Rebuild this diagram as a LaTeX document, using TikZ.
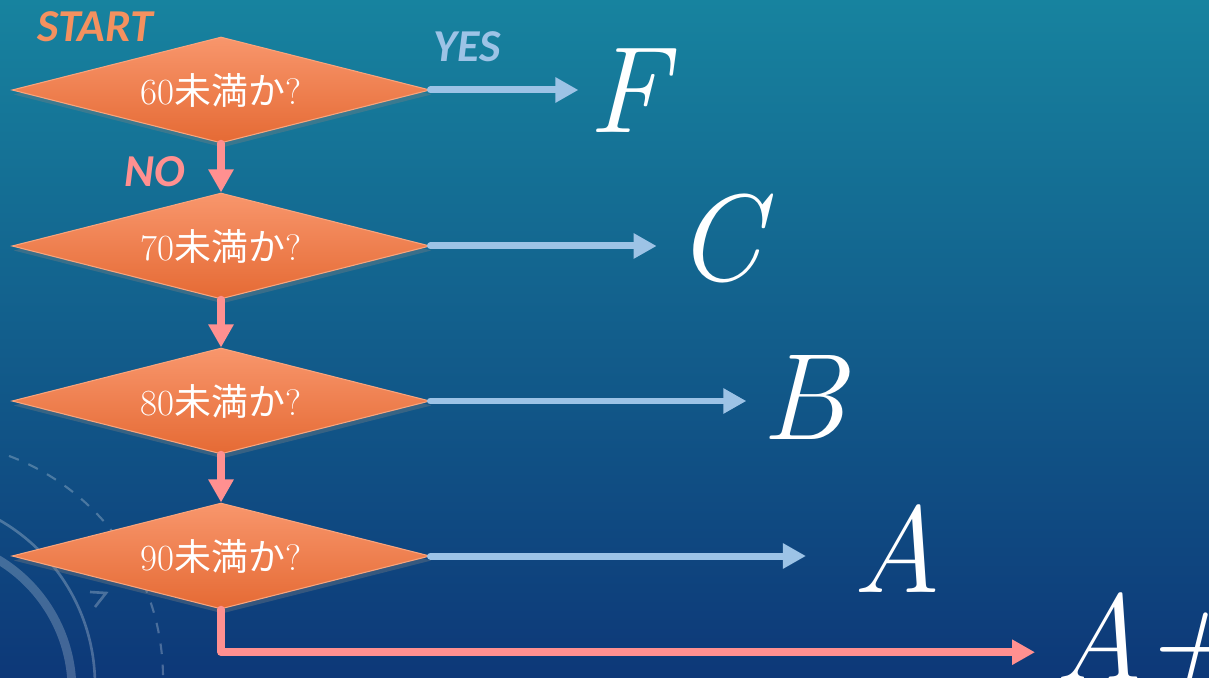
\documentclass[tikz,border=0pt]{standalone}
\usepackage{fontspec}
\newfontfamily\cjkfont{Noto Sans CJK JP}
\newfontfamily\tagfont{Carlito}
\usetikzlibrary{shapes.geometric,arrows.meta,shadows}
\definecolor{bgtop}{HTML}{17839F}
\definecolor{bgmid}{HTML}{135E94}
\definecolor{bgbot}{HTML}{0D3878}
\definecolor{dtop}{HTML}{F8966C}
\definecolor{dbot}{HTML}{E56A34}
\definecolor{dedge}{HTML}{F9A47C}
\definecolor{yescol}{HTML}{9DC3E6}
\definecolor{nocol}{HTML}{FF9090}
\definecolor{startcol}{HTML}{F4915F}
\newcommand{\belowscore}[1]{{\rmfamily #1}{\cjkfont 未満か}{\rmfamily ?}}
\tikzset{
  test/.style={diamond, aspect=3.94, minimum width=8.36cm, minimum height=2.12cm,
    inner sep=0pt, top color=dtop, bottom color=dbot, draw=dedge, line width=0.6pt,
    drop shadow={shadow xshift=0.03cm, shadow yshift=-0.09cm, opacity=0.35},
    text=white, font=\fontsize{21}{21}\selectfont},
  grade/.style={text=white, inner sep=0pt, font=\rmfamily\itshape\fontsize{70}{70}\selectfont},
  yesline/.style={draw=yescol, line width=0.14cm, line cap=round,
    -{Triangle[length=0.46cm,width=0.48cm]}},
  noline/.style={draw=nocol, line width=0.15cm, line cap=round, line join=round,
    -{Triangle[length=0.46cm,width=0.48cm]}},
  tag/.style={font=\tagfont\bfseries\itshape\fontsize{26}{26}\selectfont}
}
\begin{document}
\begin{tikzpicture}[x=0.02cm, y=-0.02cm]
\useasboundingbox (0,0) rectangle (1209,678);
\clip (0,0) rectangle (1209,678);
% Background
\shade[top color=bgtop, middle color=bgmid, bottom color=bgbot] (0,0) rectangle (1209,678);
% Decorative rings at lower left
\draw[white, opacity=0.25, line width=1.2pt, dash pattern=on 6pt off 6pt] (-74,678) circle (237);
\draw[white, opacity=0.25, line width=1.5pt] (-95,685) circle (190);
\draw[white, opacity=0.22, line width=5pt] (-80,690) circle (152);
\draw[white, opacity=0.25, line width=1.5pt] (90,592) -- (106,593) -- (95,607);
% Decision diamonds
\node[test] (d60) at (221,90) {\belowscore{60}};
\node[test] (d70) at (221,246) {\belowscore{70}};
\node[test] (d80) at (221,401) {\belowscore{80}};
\node[test] (d90) at (221,556) {\belowscore{90}};
% Grades
\node[grade] (gF) at (628,91) {F};
\node[grade] (gC) at (719,239) {C};
\node[grade] (gB) at (804,398) {B};
\node[grade] (gA) at (897,549) {A};
\node[grade, anchor=base west] (gAp) at (1054,680) {A+};
% YES arrows
\draw[yesline, shorten >=0.2cm] (d60.east) -- (gF.west |- d60.east);
\draw[yesline, shorten >=0.38cm] (d70.east) -- (gC.west |- d70.east);
\draw[yesline, shorten >=0.3cm] (d80.east) -- (gB.west |- d80.east);
\draw[yesline, shorten >=0.92cm] (d90.east) -- (gA.west |- d90.east);
% NO arrows
\draw[noline] (d60.south) -- (d70.north);
\draw[noline] (d70.south) -- (d80.north);
\draw[noline] (d80.south) -- (d90.north);
\draw[noline, shorten >=0.38cm] (d90.south) |- ([yshift=-0.26cm]gAp.west);
% Labels
\node[tag, text=startcol] (start) at (95,27) {START};
\node[tag, text=yescol] (yes) at (467,47) {YES};
\node[tag, text=nocol] (no) at (155,172) {NO};
\end{tikzpicture}
\end{document}
